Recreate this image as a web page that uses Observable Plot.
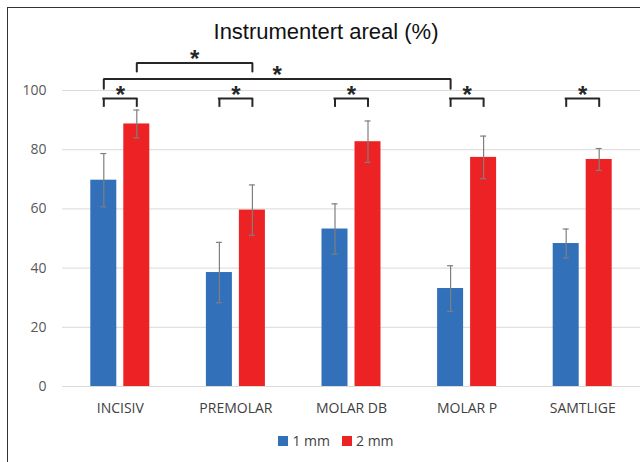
<!DOCTYPE html>
<html><head><meta charset="utf-8">
<script src="https://cdn.jsdelivr.net/npm/d3@7"></script>
<script src="https://cdn.jsdelivr.net/npm/@observablehq/plot@0.6"></script>
<style>
html,body{margin:0;padding:0;background:#fff;overflow:hidden}
#wrap{position:relative;width:640px;height:462px;overflow:hidden;font-family:"Open Sans",sans-serif}
#frame{position:absolute;left:7px;top:7px;width:700px;height:500px;border-left:1.5px solid #333;border-top:1.5px solid #333;box-sizing:border-box}
#title{position:absolute;left:0;width:652px;top:21px;text-align:center;font:22px/22px "Liberation Sans",Arial,sans-serif;color:#111}
#chart{position:absolute;left:0;top:40px}
#legend{position:absolute;top:432px;left:0;width:672px;display:flex;justify-content:center;align-items:center;font-size:14px;color:#404040;line-height:18px}
#legend .sw{display:inline-block;width:10px;height:10px;margin-right:4px}
#legend .item{display:flex;align-items:center;margin:0 6px}
</style></head>
<body><div id="wrap">
<div id="frame"></div>
<div id="title">Instrumentert areal (%)</div>
<div id="chart"></div>
<div id="legend"></div>
</div>
<script>
// ---- data ----
const categories = ["INCISIV", "PREMOLAR", "MOLAR DB", "MOLAR P", "SAMTLIGE"];
const series = ["1 mm", "2 mm"];
const mean1mm = [69.7, 38.5, 53.2, 33.1, 48.3];
const err1mm = [9.0, 10.2, 8.5, 7.7, 4.9];
const mean2mm = [88.7, 59.6, 82.7, 77.4, 76.7];
const err2mm = [4.7, 8.5, 7.0, 7.2, 3.7];
const colors = ["#3270b9", "#ed2224"];
const yTicks = [0, 20, 40, 60, 80, 100];
// categories with a significant 1 mm vs 2 mm difference
const pairSig = ["INCISIV", "PREMOLAR", "MOLAR DB", "MOLAR P", "SAMTLIGE"];
// significant differences between categories: [from, to, series]
const groupSigFrom = ["INCISIV", "INCISIV"];
const groupSigTo = ["PREMOLAR", "MOLAR P"];
const groupSigSeries = ["2 mm", "1 mm"];

// ---- layout ----
const W = 640, H = 396, mL = 62, mR = 0, mT = 50, mB = 50;
const bw = (W - mL - mR) / categories.length;
const barW = 26, off = 16.5;
const inset = (bw - barW) / 2;
const dxOf = s => s === series[0] ? -off : off;
const ink = "#262626";

const rows = series.map((s, k) => categories.map((c, i) => ({
  cat: c, series: s,
  value: k === 0 ? mean1mm[i] : mean2mm[i],
  err: k === 0 ? err1mm[i] : err2mm[i]
})));

const marks = [
  Plot.gridY(yTicks, {stroke: "#d9d9d9", strokeOpacity: 1}),
  Plot.axisY(yTicks, {tickSize: 0, tickPadding: 16, fontSize: 14, fill: "#595959"}),
  Plot.axisX({tickSize: 0, tickPadding: 17, fontSize: 14, fill: "#404040"})
];

series.forEach((s, k) => {
  const d = rows[k], dx = dxOf(s);
  marks.push(
    Plot.barY(d, {x: "cat", y: "value", fill: colors[k], insetLeft: inset, insetRight: inset, dx}),
    Plot.ruleX(d, {x: "cat", y1: r => r.value - r.err, y2: r => r.value + r.err, dx, stroke: "#7f7f7f", strokeWidth: 1.2}),
    Plot.tickY(d, {x: "cat", y: r => r.value + r.err, dx, insetLeft: bw / 2 - 3, insetRight: bw / 2 - 3, stroke: "#7f7f7f", strokeWidth: 1.2}),
    Plot.tickY(d, {x: "cat", y: r => r.value - r.err, dx, insetLeft: bw / 2 - 3, insetRight: bw / 2 - 3, stroke: "#7f7f7f", strokeWidth: 1.2})
  );
});

// within-category brackets
const pairTop = 97.3, pairLeg = 94.3, pairStar = 100.5;
marks.push(
  Plot.tickY(pairSig, {x: d => d, y: pairTop, insetLeft: bw / 2 - off, insetRight: bw / 2 - off, stroke: ink, strokeWidth: 2, strokeLinecap: "square"}),
  Plot.ruleX(pairSig, {x: d => d, y1: pairLeg, y2: pairTop, dx: -off, stroke: ink, strokeWidth: 2}),
  Plot.ruleX(pairSig, {x: d => d, y1: pairLeg, y2: pairTop, dx: off, stroke: ink, strokeWidth: 2}),
  Plot.text(pairSig, {x: d => d, y: pairStar, text: () => "*", fontSize: 24, fontWeight: "bold", fontFamily: "Liberation Sans", fill: ink, dy: 6})
);

// between-category brackets
const groupTop = [109.3, 103.9], groupLeg = [106.4, 100.6], groupStar = [112.5, 107.2];
groupSigFrom.forEach((from, j) => {
  const to = groupSigTo[j], dx = dxOf(groupSigSeries[j]);
  const pts = [
    {x: from, y: groupLeg[j]}, {x: from, y: groupTop[j]},
    {x: to, y: groupTop[j]}, {x: to, y: groupLeg[j]}
  ];
  const span = categories.indexOf(to) - categories.indexOf(from);
  marks.push(
    Plot.line(pts, {x: "x", y: "y", dx, stroke: ink, strokeWidth: 2, strokeLinejoin: "miter", curve: "linear"}),
    Plot.text([from], {x: d => d, y: groupStar[j], text: () => "*", dx: dx + span * bw / 2, dy: 6, fontSize: 24, fontWeight: "bold", fontFamily: "Liberation Sans", fill: ink})
  );
});

const chart = Plot.plot({
  width: W, height: H,
  marginLeft: mL, marginRight: mR, marginTop: mT, marginBottom: mB,
  style: {fontFamily: "'Open Sans', sans-serif", fontSize: "14px", background: "transparent", overflow: "visible"},
  x: {domain: categories, padding: 0, round: false, label: null},
  y: {domain: [0, 100], label: null},
  marks
});
document.getElementById("chart").appendChild(chart);

// legend
const legend = document.getElementById("legend");
series.forEach((s, k) => {
  const it = document.createElement("span");
  it.className = "item";
  it.innerHTML = `<span class="sw" style="background:${colors[k]}"></span>${s}`;
  legend.appendChild(it);
});
</script>
</body></html>
